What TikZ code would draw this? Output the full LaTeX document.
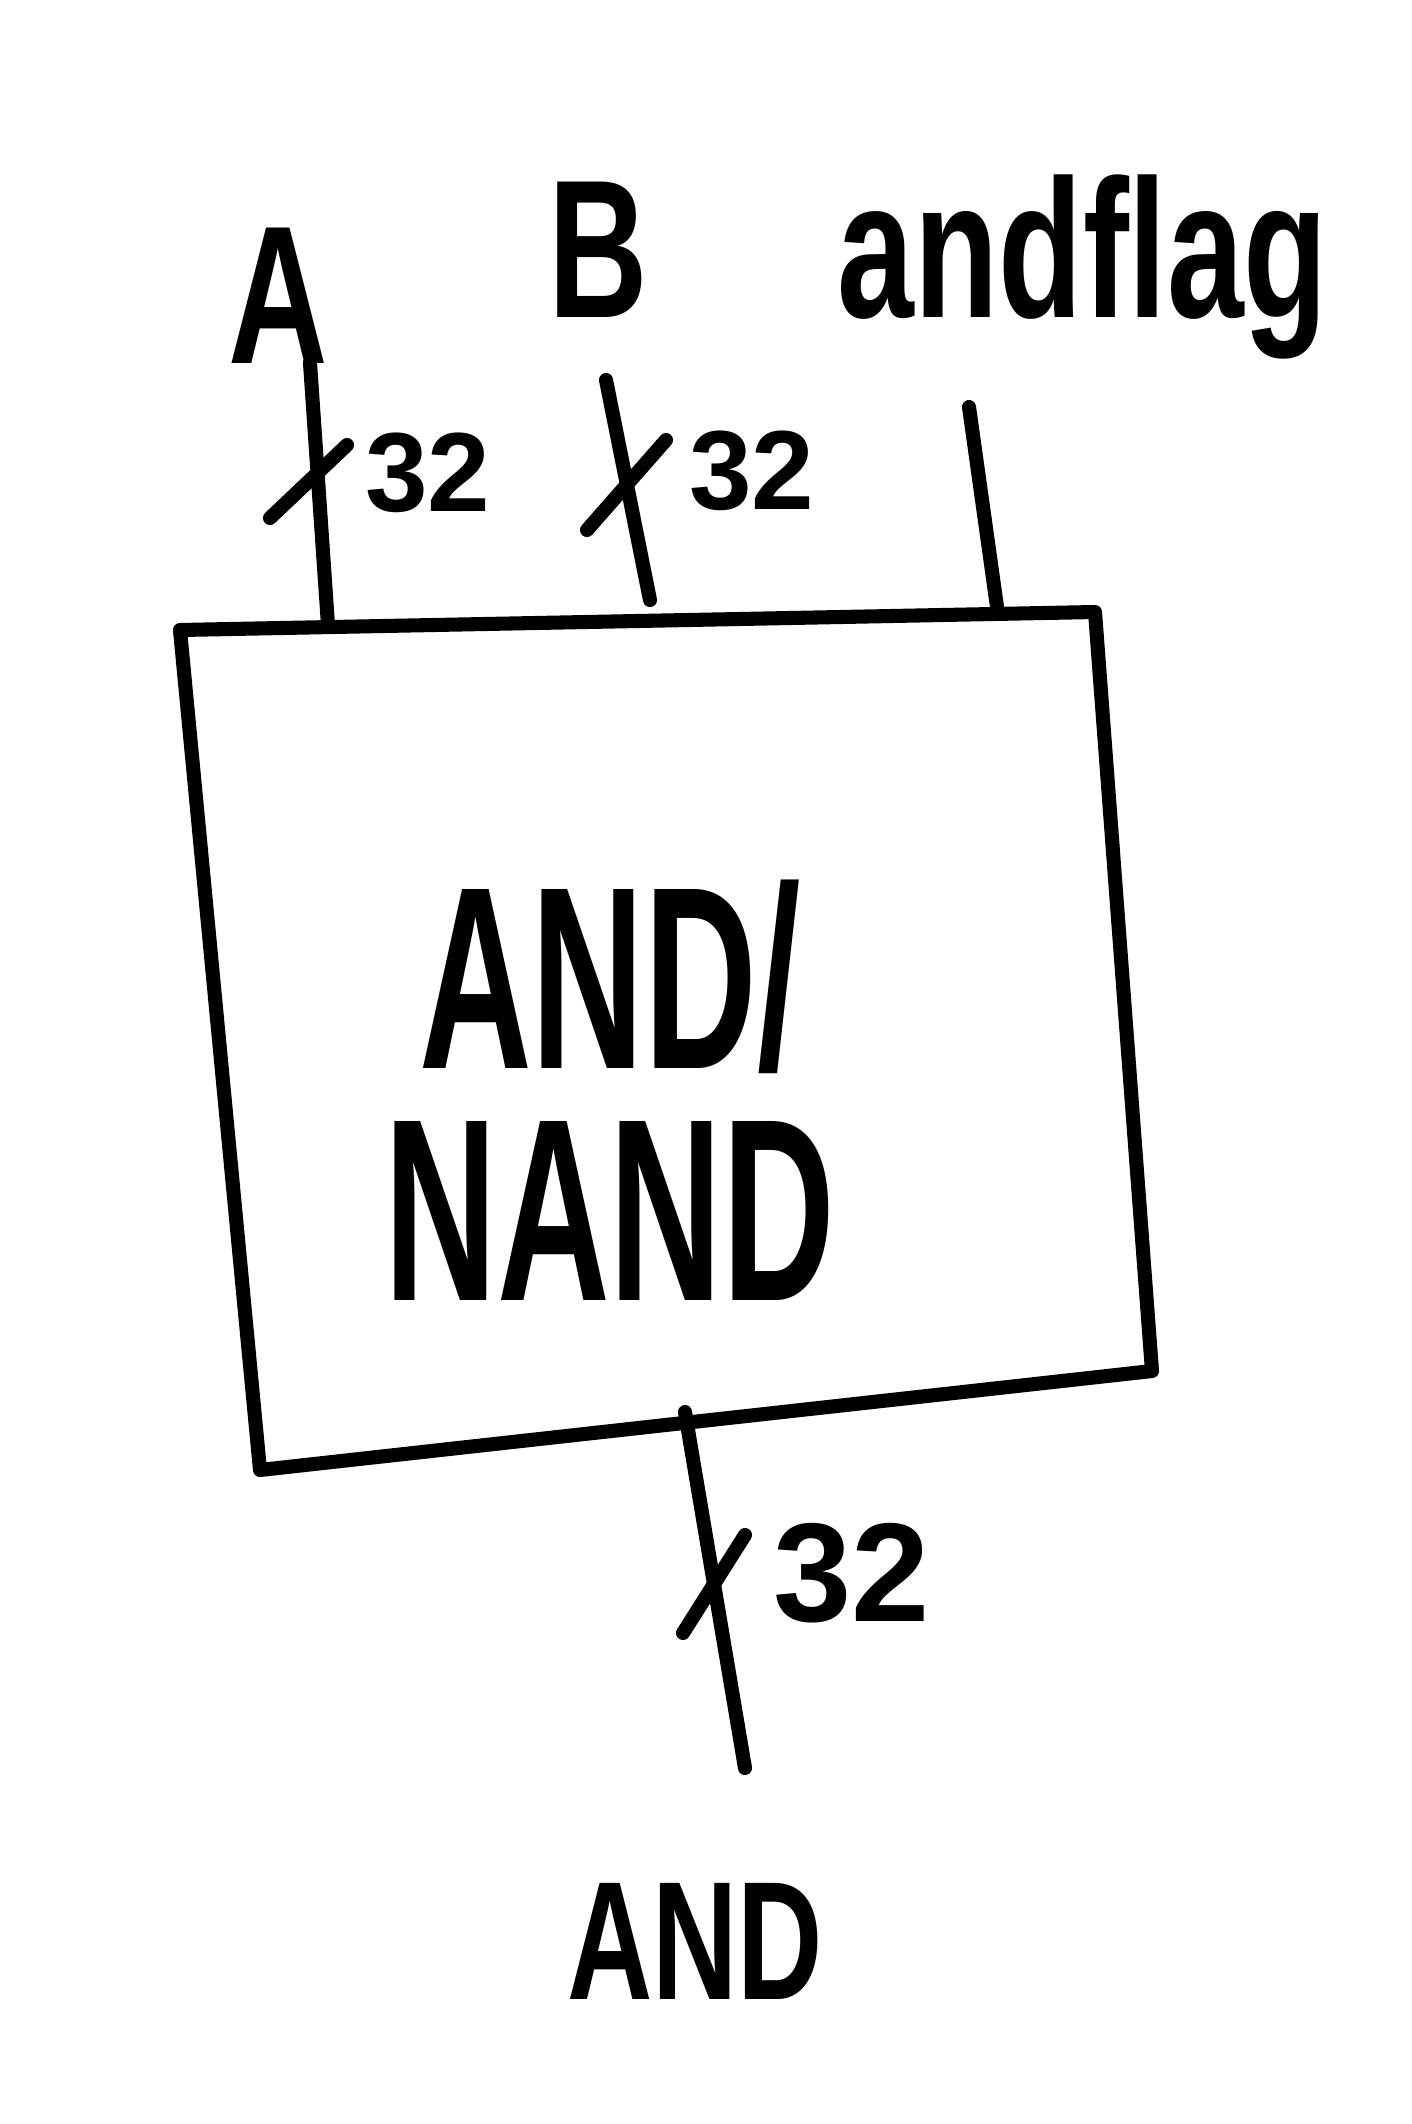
\documentclass[tikz,border=0pt]{standalone}
\usepackage{fontspec}
\setmainfont{Liberation Sans}
\newfontfamily\handfont[FakeStretch=0.7]{Liberation Sans}
\newfontfamily\blockfont[FakeStretch=0.6]{Liberation Sans}
\tikzset{
  wire/.style={line width=4pt, line cap=round, line join=round},
  busmark/.style={line width=4pt, line cap=round},
  sig/.style={anchor=base, inner sep=0pt, font=\handfont\bfseries\fontsize{56}{60}\selectfont},
  wd/.style={inner sep=0pt, font=\bfseries\fontsize{32}{36}\selectfont},
  blk/.style={align=center, inner sep=0pt, font=\blockfont\bfseries\fontsize{74}{66}\selectfont},
}
\begin{document}
\begin{tikzpicture}[x=0.01cm, y=-0.01cm]
\useasboundingbox (0,0) rectangle (1412,2124);

% block outline
\coordinate (tl) at (180,630);
\coordinate (tr) at (1095,612);
\coordinate (br) at (1152,1371);
\coordinate (bl) at (260,1470);
\draw[wire] (tl) -- (tr) -- (br) -- (bl) -- cycle;
\node[blk] (gate) at (610,1090) {AND/\\NAND};

% inputs
\node[sig] (A) at (278,363) {A};
\node[sig] (B) at (598,317) {B};
\node[sig] (flag) at (1083,317) {andflag};
\coordinate (a0) at (310,363);  \coordinate (a1) at (328,625);
\coordinate (b0) at (606,380);  \coordinate (b1) at (650,600);
\coordinate (f0) at (969,407);  \coordinate (f1) at (998,614);
\draw[wire] (a0) -- (a1);
\draw[wire] (b0) -- (b1);
\draw[wire] (f0) -- (f1);

% bus widths
\coordinate (as0) at (270,518); \coordinate (as1) at (347,445);
\coordinate (bs0) at (587,530); \coordinate (bs1) at (666,440);
\draw[busmark] (as0) -- (as1);
\draw[busmark] (bs0) -- (bs1);
\node[wd] (wa) at (428,473) {32};
\node[wd] (wb) at (752,471) {32};

% output
\coordinate (o0) at (685,1412); \coordinate (o1) at (745,1768);
\draw[wire] (o0) -- (o1);
\coordinate (os0) at (683,1633); \coordinate (os1) at (745,1535);
\draw[busmark] (os0) -- (os1);
\node[wd, font=\bfseries\fontsize{40}{44}\selectfont] (wo) at (852,1573) {32};
\node[sig, font=\handfont\bfseries\fontsize{48}{52}\selectfont] (out) at (695,1999) {AND};
\end{tikzpicture}
\end{document}
